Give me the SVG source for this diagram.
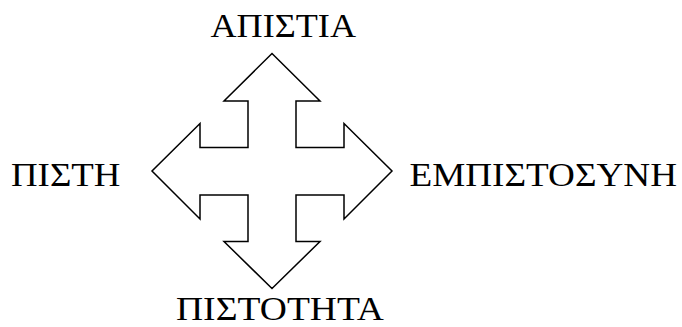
<svg xmlns="http://www.w3.org/2000/svg" width="682" height="327" viewBox="0 0 682 327">
<style>
.lbl{font-family:"Liberation Serif","Times New Roman",serif;font-size:34px;fill:#000}
.shape{fill:#fff;stroke:#000;stroke-width:1.5;stroke-linejoin:miter}
</style>
<rect width="682" height="327" fill="#fff"/>
<g id="cross">
<path class="shape" d="M272,53.5 L320,101 L296,101 L296,147.5 L344,147.5 L344,123.5 L392,171 L344,219 L344,195 L296,195 L296,241.5 L320,241.5 L272,288.5 L224,241.5 L248,241.5 L248,195 L200,195 L200,219 L152,171 L200,123.5 L200,147.5 L248,147.5 L248,101 L224,101 Z"/>
</g>
<g id="label-top"><text class="lbl" x="210.5" y="37" textLength="145.5" lengthAdjust="spacingAndGlyphs">ΑΠΙΣΤΙΑ</text></g>
<g id="label-left"><text class="lbl" x="11" y="185.5" textLength="109.5" lengthAdjust="spacingAndGlyphs">ΠΙΣΤΗ</text></g>
<g id="label-right"><text class="lbl" x="409.5" y="185.5" textLength="267.5" lengthAdjust="spacingAndGlyphs">ΕΜΠΙΣΤΟΣΥΝΗ</text></g>
<g id="label-bottom"><text class="lbl" x="176" y="319.5" textLength="208" lengthAdjust="spacingAndGlyphs">ΠΙΣΤΟΤΗΤΑ</text></g>
</svg>
